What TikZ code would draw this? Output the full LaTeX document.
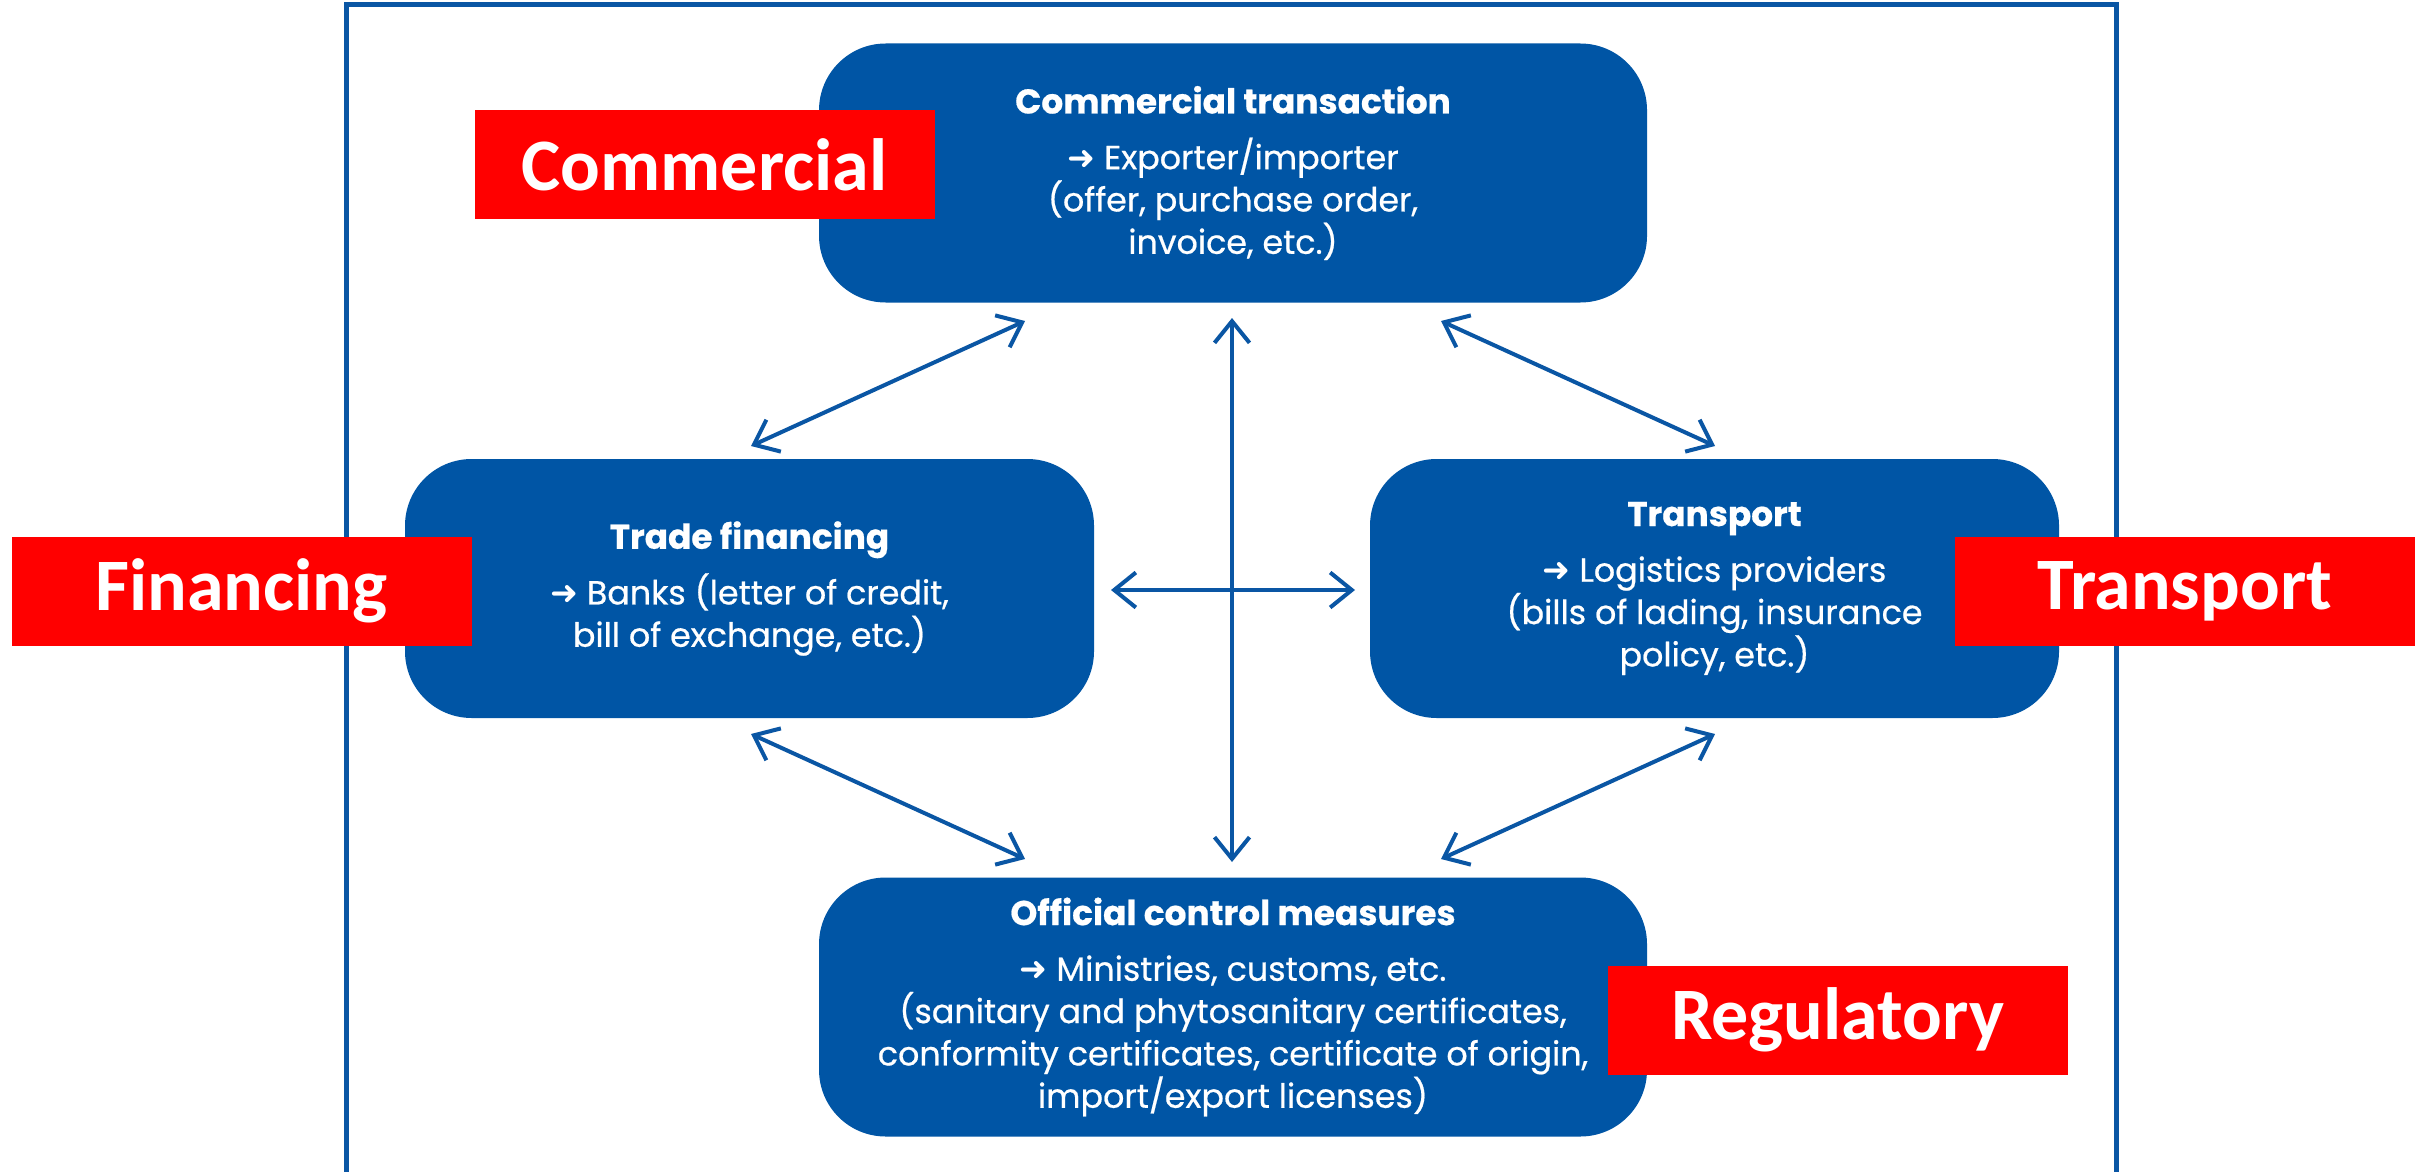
\documentclass[tikz,border=0pt]{standalone}
\usepackage{fontspec}
\setmainfont{Poppins}
\newfontfamily\labfont{Carlito}
\newfontfamily\symfont{DejaVu Sans}
\usetikzlibrary{arrows.meta,calc}
\definecolor{boxblue}{HTML}{0055A5}
\definecolor{arrblue}{HTML}{0A56A4}
\definecolor{labred}{HTML}{FF0000}
\newcommand{\arrsym}{{\symfont\bfseries ➜}\ }
\newcommand{\ttlfont}[1]{{\fontsize{10.3}{12.6}\selectfont\bfseries #1}}
\begin{document}
\begin{tikzpicture}[x=0.3pt,y=-0.3pt,
  bluebox/.style={fill=boxblue, rounded corners=20pt, minimum height=77.7pt, text=white, align=center, font=\fontsize{10}{12.7}\selectfont\addfontfeature{FakeBold=0.6}, inner sep=0pt},
  widebox/.style={bluebox, minimum width=248.4pt},
  sidebox/.style={bluebox, minimum width=206.7pt},
  redlabel/.style={fill=labred, text=white, font=\labfont\bfseries\fontsize{22.2}{25}\selectfont, minimum width=138pt, minimum height=32.7pt, inner sep=0pt},
  link/.style={draw=arrblue, line width=1.2pt, {Straight Barb[length=6.5pt,width=10.5pt]}-{Straight Barb[length=6.5pt,width=10.5pt]}}
]
\useasboundingbox (0,0) rectangle (2422,1171);
\fill[white] (0,0) rectangle (2422,1171);
\draw[arrblue, line width=1.5pt] (346,1180) -- (346,5) -- (2116,5) -- (2116,1180);

\node[widebox] (com) at (1233,173) {\ttlfont{Commercial transaction}\\[4pt]\arrsym Exporter/importer\\(offer, purchase order,\\invoice, etc.)};
\node[sidebox] (fin) at (749.5,588.5) {\ttlfont{Trade financing}\\[4pt]\arrsym Banks (letter of credit,\\bill of exchange, etc.)};
\node[sidebox] (tra) at (1714.5,588.5) {\ttlfont{Transport}\\[4pt]\arrsym Logistics providers\\(bills of lading, insurance\\policy, etc.)};
\node[widebox] (off) at (1233,1007) {\ttlfont{Official control measures}\\[4pt]\arrsym Ministries, customs, etc.\\(sanitary and phytosanitary certificates,\\conformity certificates, certificate of origin,\\import/export licenses)};

\node[redlabel] (lcom) at (704.5,164.5) {Commercial};
\node[redlabel] (lfin) at (241.5,591) {Financing};
\node[redlabel] (ltra) at (2184.5,591) {Transport};
\node[redlabel] (lreg) at (1837.5,1020) {Regulatory};

\coordinate (tl1) at (1025,321); \coordinate (tl2) at (751,446);
\coordinate (tr1) at (1441,321); \coordinate (tr2) at (1715,446);
\coordinate (bl1) at (751,734); \coordinate (bl2) at (1025,859);
\coordinate (br1) at (1715,734); \coordinate (br2) at (1441,859);
\coordinate (v1) at (1232,318); \coordinate (v2) at (1232,862);
\coordinate (h1) at (1111,590); \coordinate (h2) at (1355,590);
\draw[link] (tl1) -- (tl2);
\draw[link] (tr1) -- (tr2);
\draw[link] (bl1) -- (bl2);
\draw[link] (br1) -- (br2);
\draw[link] (v1) -- (v2);
\draw[link] (h1) -- (h2);
\end{tikzpicture}
\end{document}
